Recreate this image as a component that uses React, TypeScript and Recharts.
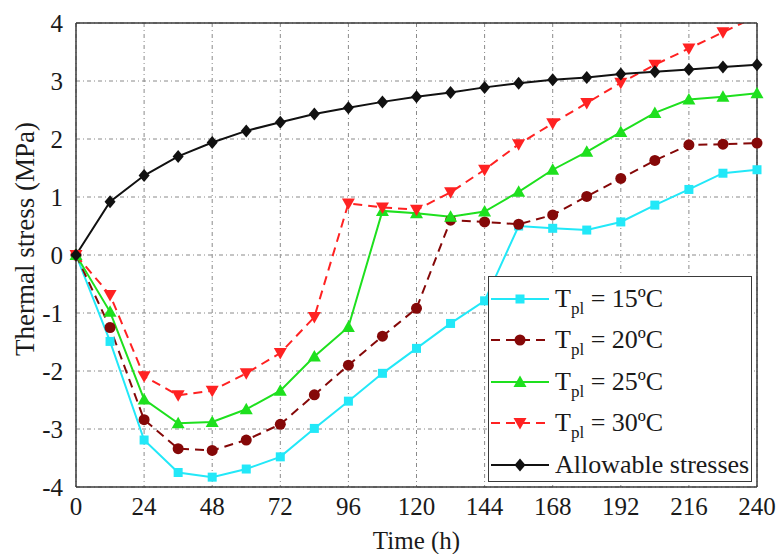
import React from "react";
import { CartesianGrid, Line, LineChart, XAxis, YAxis } from "recharts";

const hours = [0, 12, 24, 36, 48, 60, 72, 84, 96, 108, 120, 132, 144, 156, 168, 180, 192, 204, 216, 228, 240];
const t15 = [0, -1.49, -3.19, -3.75, -3.83, -3.69, -3.48, -2.99, -2.52, -2.04, -1.61, -1.18, -0.79, 0.5, 0.46, 0.43, 0.57, 0.86, 1.13, 1.41, 1.47];
const t20 = [0, -1.25, -2.84, -3.34, -3.37, -3.19, -2.92, -2.41, -1.9, -1.4, -0.92, 0.6, 0.57, 0.53, 0.69, 1.01, 1.32, 1.63, 1.9, 1.91, 1.93];
const t25 = [0, -0.98, -2.49, -2.9, -2.88, -2.66, -2.34, -1.75, -1.24, 0.76, 0.72, 0.66, 0.75, 1.09, 1.47, 1.78, 2.12, 2.45, 2.68, 2.73, 2.79];
const t30 = [0, -0.69, -2.09, -2.42, -2.34, -2.04, -1.69, -1.07, 0.89, 0.82, 0.78, 1.08, 1.47, 1.91, 2.27, 2.62, 2.97, 3.28, 3.56, 3.84, 4.12];
const allowable = [0, 0.92, 1.37, 1.7, 1.94, 2.14, 2.29, 2.43, 2.54, 2.64, 2.73, 2.8, 2.89, 2.96, 3.02, 3.06, 3.12, 3.16, 3.2, 3.24, 3.28];

const xMajor = [0, 24, 48, 72, 96, 120, 144, 168, 192, 216, 240];
const xMinor = [12, 36, 60, 84, 108, 132, 156, 180, 204, 228];
const yMajor = [-4, -3, -2, -1, 0, 1, 2, 3, 4];
const yMinor = [-3.5, -2.5, -1.5, -0.5, 0.5, 1.5, 2.5, 3.5];

const data = hours.map((t, i) => ({
  t,
  t15: t15[i],
  t20: t20[i],
  t25: t25[i],
  t30: t30[i],
  allow: allowable[i],
}));

type Shape = "square" | "circle" | "up" | "down" | "diamond";

const series: { key: string; temp?: string; label?: string; color: string; dash?: string; shape: Shape }[] = [
  { key: "t15", temp: "15", color: "#22e8f8", shape: "square" },
  { key: "t20", temp: "20", color: "#850808", dash: "9 6", shape: "circle" },
  { key: "t25", temp: "25", color: "#1ee01e", shape: "up" },
  { key: "t30", temp: "30", color: "#ff2222", dash: "9 6", shape: "down" },
  { key: "allow", label: "Allowable stresses", color: "#111", shape: "diamond" },
];

const FONT = "Liberation Serif, DejaVu Serif, serif";
const AXIS = "#3a3a3a";

function Marker({ cx, cy, shape, color }: { cx: number; cy: number; shape: Shape; color: string }) {
  if (cx == null || cy == null) return null;
  if (shape === "square") return <rect x={cx - 4.5} y={cy - 4.5} width={9} height={9} fill={color} />;
  if (shape === "circle") return <circle cx={cx} cy={cy} r={5.5} fill={color} />;
  if (shape === "up") return <polygon points={`${cx},${cy - 6.5} ${cx + 6.5},${cy + 5} ${cx - 6.5},${cy + 5}`} fill={color} />;
  if (shape === "down") return <polygon points={`${cx},${cy + 6.5} ${cx + 6.5},${cy - 5} ${cx - 6.5},${cy - 5}`} fill={color} />;
  return <polygon points={`${cx},${cy - 6.5} ${cx + 5.5},${cy} ${cx},${cy + 6.5} ${cx - 5.5},${cy}`} fill={color} />;
}

function LegendBox() {
  return (
    <div
      style={{
        position: "absolute",
        left: 488,
        top: 276,
        width: 264,
        height: 206,
        boxSizing: "border-box",
        border: `1.5px solid ${AXIS}`,
        background: "#fff",
        paddingTop: 1,
        fontFamily: FONT,
        fontSize: 26,
        color: "#1a1a1a",
      }}
    >
      {series.map((s) => (
        <div key={s.key} style={{ display: "flex", alignItems: "center", height: 41.5 }}>
          <svg width={58} height={20} style={{ marginLeft: 2, flex: "none" }}>
            <line x1={0} y1={10} x2={58} y2={10} stroke={s.color} strokeWidth={2} strokeDasharray={s.dash} />
            <Marker cx={29} cy={10} shape={s.shape} color={s.color} />
          </svg>
          <span style={{ marginLeft: 6, lineHeight: 1, whiteSpace: "nowrap" }}>
            {s.temp ? (
              <>
                T<span style={{ fontSize: 17, verticalAlign: -7, lineHeight: 0 }}>pl</span> = {s.temp}ºC
              </>
            ) : (
              s.label
            )}
          </span>
        </div>
      ))}
    </div>
  );
}

const tickFont = { fontSize: 25, fill: "#1a1a1a", fontFamily: FONT };

export default function App() {
  return (
    <div style={{ position: "absolute", left: 0, top: 0, width: 779, height: 554, background: "#fff" }}>
      <LineChart width={779} height={554} data={data} margin={{ top: 23, right: 22, bottom: 27, left: 0 }}>
        <CartesianGrid stroke="#8a8a8a" strokeDasharray="4 3 1 3" />
        <XAxis
          dataKey="t"
          type="number"
          domain={[0, 240]}
          ticks={xMajor}
          interval={0}
          height={40}
          tickLine={false}
          tickSize={0}
          tickMargin={10}
          axisLine={{ stroke: AXIS, strokeWidth: 1.5 }}
          tick={tickFont}
          label={{ value: "Time (h)", position: "bottom", offset: 4, style: { fontSize: 25, fill: "#1a1a1a", fontFamily: FONT } }}
        />
        <YAxis
          type="number"
          domain={[-4, 4]}
          ticks={yMajor}
          interval={0}
          allowDataOverflow
          width={76}
          tickLine={false}
          tickSize={0}
          tickMargin={13}
          axisLine={{ stroke: AXIS, strokeWidth: 1.5 }}
          tick={tickFont}
          label={{
            content: ({ viewBox }: any) => (
              <text
                transform={`translate(${viewBox.x + 25}, ${viewBox.y + viewBox.height / 2 - 16}) rotate(-90)`}
                textAnchor="middle"
                dominantBaseline="central"
                style={{ fontSize: 27, fill: "#1a1a1a", fontFamily: FONT }}
              >
                Thermal stress (MPa)
              </text>
            ),
          }}
        />
        {/* inward tick marks on all four sides */}
        <XAxis xAxisId="bMaj" dataKey="t" type="number" domain={[0, 240]} ticks={xMajor} interval={0} mirror height={1} tick={false} axisLine={false} tickSize={9} tickLine={{ stroke: AXIS, strokeWidth: 1.5 }} />
        <XAxis xAxisId="bMin" dataKey="t" type="number" domain={[0, 240]} ticks={xMinor} interval={0} mirror height={1} tick={false} axisLine={false} tickSize={5} tickLine={{ stroke: AXIS, strokeWidth: 1.5 }} />
        <XAxis xAxisId="tMaj" orientation="top" dataKey="t" type="number" domain={[0, 240]} ticks={xMajor} interval={0} mirror height={1} tick={false} axisLine={{ stroke: AXIS, strokeWidth: 1.5 }} tickSize={9} tickLine={{ stroke: AXIS, strokeWidth: 1.5 }} />
        <XAxis xAxisId="tMin" orientation="top" dataKey="t" type="number" domain={[0, 240]} ticks={xMinor} interval={0} mirror height={1} tick={false} axisLine={false} tickSize={5} tickLine={{ stroke: AXIS, strokeWidth: 1.5 }} />
        <YAxis yAxisId="lMaj" type="number" domain={[-4, 4]} ticks={yMajor} interval={0} mirror width={1} tick={false} axisLine={false} tickSize={9} tickLine={{ stroke: AXIS, strokeWidth: 1.5 }} />
        <YAxis yAxisId="lMin" type="number" domain={[-4, 4]} ticks={yMinor} interval={0} mirror width={1} tick={false} axisLine={false} tickSize={5} tickLine={{ stroke: AXIS, strokeWidth: 1.5 }} />
        <YAxis yAxisId="rMaj" orientation="right" type="number" domain={[-4, 4]} ticks={yMajor} interval={0} mirror width={1} tick={false} axisLine={{ stroke: AXIS, strokeWidth: 1.5 }} tickSize={9} tickLine={{ stroke: AXIS, strokeWidth: 1.5 }} />
        <YAxis yAxisId="rMin" orientation="right" type="number" domain={[-4, 4]} ticks={yMinor} interval={0} mirror width={1} tick={false} axisLine={false} tickSize={5} tickLine={{ stroke: AXIS, strokeWidth: 1.5 }} />
        {series.map((s) => (
          <Line
            key={s.key}
            dataKey={s.key}
            type="linear"
            stroke={s.color}
            strokeWidth={2}
            strokeDasharray={s.dash}
            isAnimationActive={false}
            dot={(p: any) => <Marker key={`${s.key}-${p.index}`} cx={p.cx} cy={p.cy} shape={s.shape} color={s.color} />}
            activeDot={false}
          />
        ))}
      </LineChart>
      <LegendBox />
    </div>
  );
}
